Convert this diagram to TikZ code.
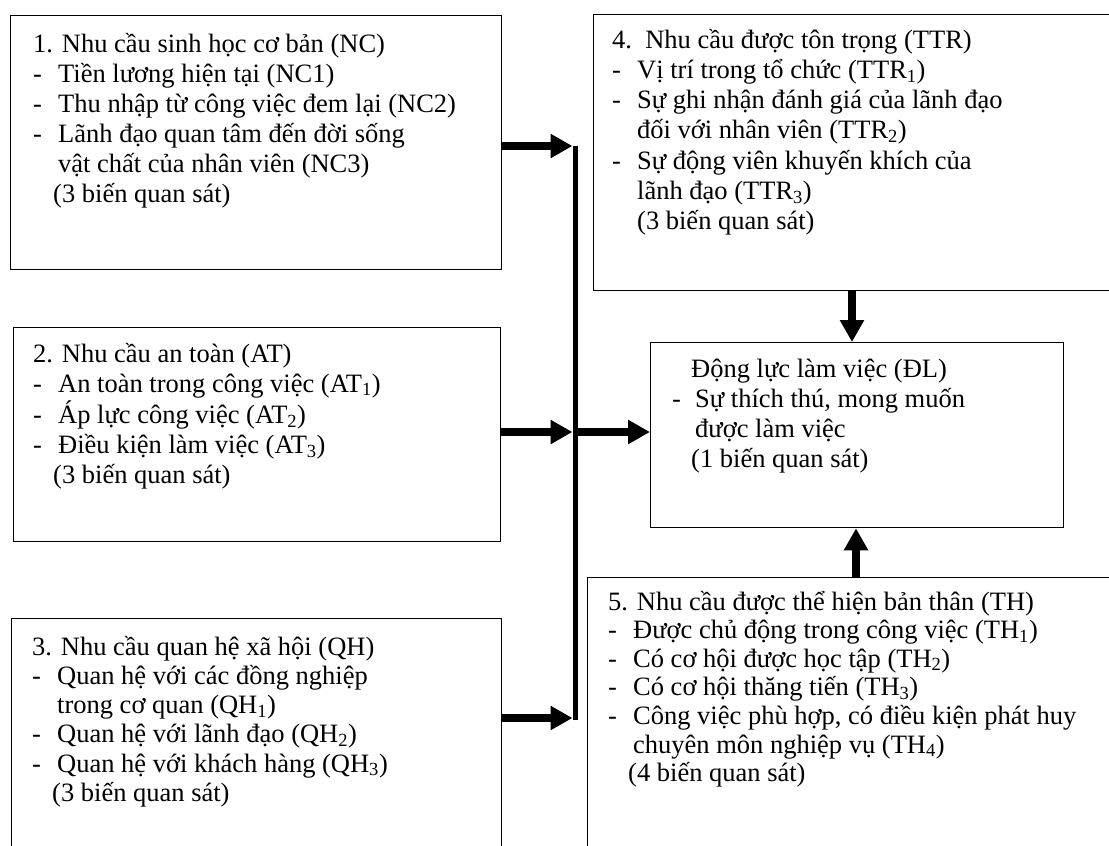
\documentclass[tikz,border=0pt]{standalone}
\usepackage{fontspec}
\setmainfont{Liberation Serif}
\usetikzlibrary{arrows.meta}
\newcommand{\itemdash}{\makebox[25pt][l]{-}}
\newcommand{\contind}{\hspace*{25pt}}
\newcommand{\obsind}{\hspace*{20pt}}
\newcommand{\boxlines}[1]{\begin{tabular}[t]{@{}l@{}}#1\end{tabular}}
\begin{document}
\begin{tikzpicture}[x=1pt,y=-1pt,
  box/.style={draw=black,line width=1.3pt,anchor=north west,inner sep=0pt,rectangle},
  txt/.style={anchor=base west,inner sep=0pt,text=black},
  arr/.style={line width=7.5pt,-{Triangle[length=22pt,width=23pt]}},
  bus/.style={line width=5pt,line cap=butt}]
\path[use as bounding box] (0,0) rectangle (1109,846);
\clip (0,0) rectangle (1109,846);
\fill[white] (0,0) rectangle (1109,846);

% boxes
\node[box,minimum width=491pt,minimum height=254pt] (b1) at (10,15) {};
\node[box,minimum width=487pt,minimum height=214pt] (b2) at (13,327) {};
\node[box,minimum width=490pt,minimum height=260pt] (b3) at (11,618) {};
\node[box,minimum width=540pt,minimum height=276pt] (b4) at (593,14) {};
\node[box,minimum width=413pt,minimum height=185pt] (bdl) at (650,342) {};
\node[box,minimum width=545pt,minimum height=290pt] (b5) at (587,577) {};

% texts
\node[txt,font=\fontsize{26.5}{30}\selectfont] (t1) at (33,52) {\boxlines{1. Nhu cầu sinh học cơ bản (NC)\\
\itemdash Tiền lương hiện tại (NC1)\\
\itemdash Thu nhập từ công việc đem lại (NC2)\\
\itemdash Lãnh đạo quan tâm đến đời sống\\
\contind vật chất của nhân viên (NC3)\\
\obsind(3 biến quan sát)}};

\node[txt,font=\fontsize{26.5}{30}\selectfont] (t2) at (33,362) {\boxlines{2. Nhu cầu an toàn (AT)\\
\itemdash An toàn trong công việc (AT\textsubscript{1})\\
\itemdash Áp lực công việc (AT\textsubscript{2})\\
\itemdash Điều kiện làm việc (AT\textsubscript{3})\\
\obsind(3 biến quan sát)}};

\node[txt,font=\fontsize{26.5}{29.3}\selectfont] (t3) at (32,655) {\boxlines{3. Nhu cầu quan hệ xã hội (QH)\\
\itemdash Quan hệ với các đồng nghiệp\\
\contind trong cơ quan (QH\textsubscript{1})\\
\itemdash Quan hệ với lãnh đạo (QH\textsubscript{2})\\
\itemdash Quan hệ với khách hàng (QH\textsubscript{3})\\
\obsind(3 biến quan sát)}};

\node[txt,font=\fontsize{26.5}{30.3}\selectfont] (t4) at (612,48) {\boxlines{4.\ \ Nhu cầu được tôn trọng (TTR)\\
\itemdash Vị trí trong tổ chức (TTR\textsubscript{1})\\
\itemdash Sự ghi nhận đánh giá của lãnh đạo\\
\contind đối với nhân viên (TTR\textsubscript{2})\\
\itemdash Sự động viên khuyến khích của\\
\contind lãnh đạo (TTR\textsubscript{3})\\
\contind (3 biến quan sát)}};

\node[txt,font=\fontsize{26.5}{30}\selectfont] (tdl) at (672,377) {\boxlines{\hspace*{19pt}Động lực làm việc (ĐL)\\
\makebox[23pt][l]{-}Sự thích thú, mong muốn\\
\hspace*{23pt}được làm việc\\
\hspace*{19pt}(1 biến quan sát)}};

\node[txt,font=\fontsize{26.5}{28.6}\selectfont] (t5) at (608,610) {\boxlines{5. Nhu cầu được thể hiện bản thân (TH)\\
\itemdash Được chủ động trong công việc (TH\textsubscript{1})\\
\itemdash Có cơ hội được học tập (TH\textsubscript{2})\\
\itemdash Có cơ hội thăng tiến (TH\textsubscript{3})\\
\itemdash Công việc phù hợp, có điều kiện phát huy\\
\contind chuyên môn nghiệp vụ (TH\textsubscript{4})\\
\obsind(4 biến quan sát)}};

% connectors
\coordinate (j1) at (575,146);
\coordinate (j3) at (575,720);
\coordinate (e1) at (572.5,146);
\coordinate (e2) at (572.5,432);
\coordinate (e3) at (572.5,718);
\coordinate (s4) at (577.5,432);
\coordinate (xd) at (852,0);
\coordinate (xu) at (856,0);

\draw[bus] (j1) -- (j3);
\draw[arr] (b1.east |- e1) -- (e1);
\draw[arr] (b2.east |- e2) -- (e2);
\draw[arr] (b3.east |- e3) -- (e3);
\draw[arr] (s4) -- (bdl.west |- s4);
\draw[arr] (xd |- b4.south) -- (xd |- bdl.north);
\draw[arr] (xu |- b5.north) -- (xu |- bdl.south);
\end{tikzpicture}
\end{document}
